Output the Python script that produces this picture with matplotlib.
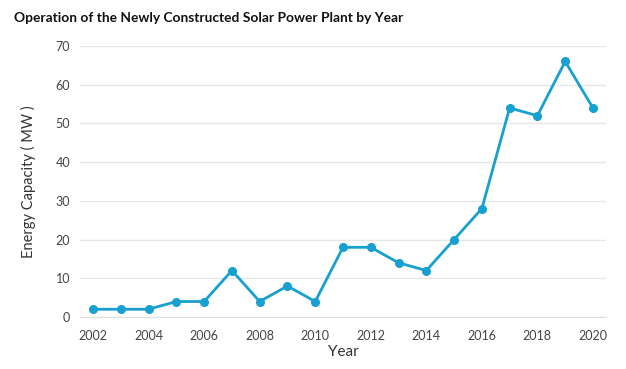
import matplotlib
matplotlib.use("Agg")
import matplotlib.pyplot as plt

years = [2002, 2003, 2004, 2005, 2006, 2007, 2008, 2009, 2010, 2011,
         2012, 2013, 2014, 2015, 2016, 2017, 2018, 2019, 2020]
capacity = [2, 2, 2, 4, 4, 12, 4, 8, 4, 18, 18, 14, 12, 20, 28, 54, 52, 66, 54]
xticks = [2002, 2004, 2006, 2008, 2010, 2012, 2014, 2016, 2018, 2020]
yticks = [0, 10, 20, 30, 40, 50, 60, 70]

plt.rcParams['font.family'] = ['Lato', 'DejaVu Sans']

W, H = 626, 369
fig = plt.figure(figsize=(W / 100, H / 100), dpi=100)
ax = fig.add_axes([80 / W, 1 - 317 / H, (606 - 80) / W, (317 - 46) / H])

ax.plot(years, capacity, color='#18a0d0', lw=2, marker='o', ms=5.5, zorder=3)

ax.set_xlim(2001.53, 2020.47)
ax.set_ylim(0, 70)
ax.set_xticks(xticks)
ax.set_yticks(yticks)
ax.grid(axis='y', color='#e6e6e6', lw=1)
ax.set_axisbelow(True)
for s in ['top', 'right', 'left']:
    ax.spines[s].set_visible(False)
ax.spines['bottom'].set_color('#dddddd')
ax.tick_params(axis='both', length=0, labelsize=9, colors='#444444')
ax.tick_params(axis='x', pad=9)
ax.tick_params(axis='y', pad=7)

ax.set_xlabel('Year', fontsize=11, color='#333333')
ax.xaxis.set_label_coords(0.5, -0.105)
ax.set_ylabel('Energy Capacity ( MW )', fontsize=10.5, color='#333333')
ax.yaxis.set_label_coords(-0.084, 0.5)

fig.text(14 / W, 1 - 18 / H, 'Operation of the Newly Constructed Solar Power Plant by Year',
         fontsize=9.9, fontweight='bold', color='#111111', va='center', ha='left')

fig.savefig('out.png', dpi=100)
